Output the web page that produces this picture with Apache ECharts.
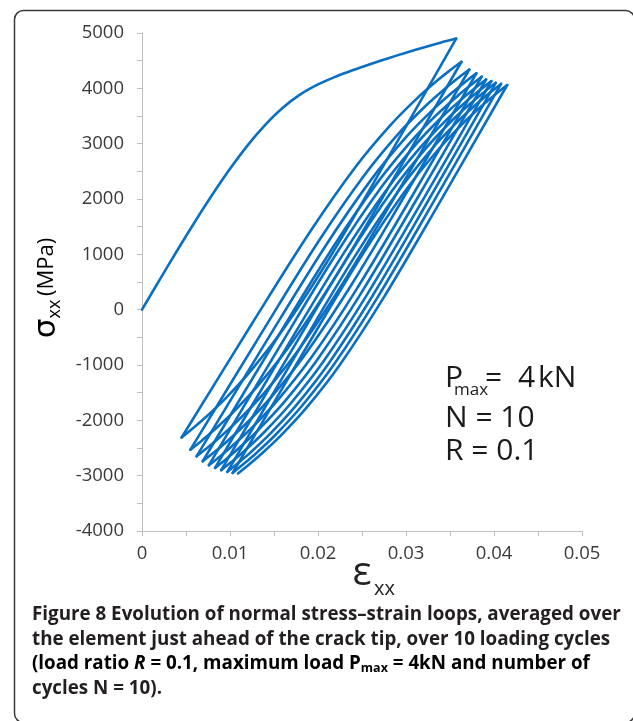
<!DOCTYPE html>
<html>
<head>
<meta charset="utf-8">
<script src="https://cdn.jsdelivr.net/npm/echarts@6/dist/echarts.min.js"></script>
<style>
html,body{margin:0;padding:0;background:#fff;}
#c{width:633px;height:721px;}
</style>
</head>
<body>
<div id="c"></div>
<script>
// ---- data (strain, stress MPa) ----
const xTicks = [0, 0.01, 0.02, 0.03, 0.04, 0.05];
const yTicks = [-4000, -3000, -2000, -1000, 0, 1000, 2000, 3000, 4000, 5000];

const initialCurve = [[0,0],[0.002,540],[0.004,1070],[0.006,1585],[0.008,2080],[0.010,2545],[0.012,2970],[0.014,3340],[0.016,3650],[0.018,3890],[0.020,4070],[0.022,4210],[0.024,4330],[0.026,4440],[0.028,4545],[0.030,4645],[0.032,4740],[0.034,4830],[0.0357,4900]];

const unload1 = [[0.0357,4900],[0.02793,2737],[0.02131,934],[0.01632,-291],[0.01247,-1084],[0.00958,-1589],[0.00720,-1950],[0.00562,-2166],[0.0045,-2310]];
const load1 = [[0.0045,-2310],[0.01242,-273],[0.01917,1425],[0.02426,2579],[0.02818,3326],[0.03113,3801],[0.03355,4141],[0.03516,4344],[0.0363,4480]];
const unload2 = [[0.0363,4480],[0.02863,2377],[0.02210,624],[0.01716,-567],[0.01337,-1338],[0.01051,-1829],[0.00816,-2180],[0.00661,-2390],[0.0055,-2530]];
const load2 = [[0.0055,-2530],[0.01340,-469],[0.02012,1249],[0.02520,2416],[0.02910,3172],[0.03204,3653],[0.03446,3997],[0.03606,4203],[0.0372,4340]];
const unload3 = [[0.0372,4340],[0.02948,2243],[0.02290,495],[0.01794,-693],[0.01412,-1462],[0.01124,-1951],[0.00888,-2301],[0.00732,-2510],[0.0062,-2650]];
const load3 = [[0.0062,-2650],[0.01412,-574],[0.02087,1156],[0.02596,2332],[0.02988,3094],[0.03283,3578],[0.03525,3924],[0.03686,4132],[0.0380,4270]];
const unload4 = [[0.0380,4270],[0.03025,2167],[0.02366,414],[0.01868,-777],[0.01485,-1548],[0.01196,-2039],[0.00959,-2390],[0.00802,-2600],[0.0069,-2740]];
const load4 = [[0.0069,-2740],[0.01480,-655],[0.02152,1083],[0.02660,2264],[0.03050,3029],[0.03344,3515],[0.03586,3863],[0.03746,4071],[0.0386,4210]];
const unload5 = [[0.0386,4210],[0.03088,2104],[0.02430,349],[0.01934,-844],[0.01552,-1617],[0.01264,-2108],[0.01028,-2459],[0.00872,-2670],[0.0076,-2810]];
const load5 = [[0.0076,-2810],[0.01545,-719],[0.02213,1024],[0.02717,2208],[0.03105,2975],[0.03397,3463],[0.03638,3812],[0.03797,4021],[0.0391,4160]];
const unload6 = [[0.0391,4160],[0.03143,2054],[0.02490,299],[0.01996,-894],[0.01617,-1667],[0.01331,-2158],[0.01096,-2509],[0.00941,-2720],[0.0083,-2860]];
const load6 = [[0.0083,-2860],[0.01612,-763],[0.02278,985],[0.02781,2173],[0.03168,2942],[0.03459,3431],[0.03698,3781],[0.03857,3990],[0.0397,4130]];
const unload7 = [[0.0397,4130],[0.03205,2021],[0.02554,263],[0.02063,-932],[0.01684,-1705],[0.01399,-2197],[0.01166,-2549],[0.01011,-2759],[0.0090,-2900]];
const load7 = [[0.0090,-2900],[0.01677,-800],[0.02339,950],[0.02838,2140],[0.03223,2910],[0.03512,3400],[0.03750,3750],[0.03908,3960],[0.0402,4100]];
const unload8 = [[0.0402,4100],[0.03260,1991],[0.02613,233],[0.02125,-962],[0.01749,-1735],[0.01466,-2227],[0.01234,-2579],[0.01080,-2789],[0.0097,-2930]];
const load8 = [[0.0097,-2930],[0.01745,-827],[0.02404,926],[0.02902,2117],[0.03285,2888],[0.03574,3379],[0.03811,3730],[0.03968,3940],[0.0408,4080]];
const unload9 = [[0.0408,4080],[0.03320,1971],[0.02673,213],[0.02185,-982],[0.01809,-1755],[0.01526,-2247],[0.01294,-2599],[0.01140,-2809],[0.0103,-2950]];
const load9 = [[0.0103,-2950],[0.01807,-847],[0.02469,906],[0.02968,2097],[0.03353,2868],[0.03642,3359],[0.03880,3710],[0.04038,3920],[0.0415,4060]];
const unload10 = [[0.0415,4060],[0.03388,1954],[0.02739,199],[0.02249,-994],[0.01872,-1767],[0.01588,-2258],[0.01355,-2609],[0.01200,-2820],[0.0109,-2960]];

const branches = [initialCurve, unload1, load1, unload2, load2, unload3, load3, unload4, load4,
  unload5, load5, unload6, load6, unload7, load7, unload8, load8, unload9, load9, unload10];

const lineColor = '#0a6fc2';
const seriesList = branches.map(b => ({
  type: 'line', data: b, showSymbol: false, symbol: 'none', smooth: 0.35,
  lineStyle: {color: lineColor, width: 2.6, join: 'round', cap: 'round'},
  emphasis: {disabled: true}
}));

const chart = echarts.init(document.getElementById('c'), null, {renderer: 'canvas'});
const axisGray = '#bfbfbf';
const labelFont = {fontFamily: 'Open Sans', fontSize: 18.5, color: '#3a3a3a'};
const capFont = 'Open Sans';
const capSize = 18.8;
const capColor = '#231f20';
const annFont = {fontFamily: 'Open Sans', fontSize: 30, fill: '#1a1a1a', verticalAlign: 'middle'};

chart.setOption({
  animation: false,
  backgroundColor: '#fff',
  grid: {left: 142, right: 51, top: 33, bottom: 190, containLabel: false},
  xAxis: {
    type: 'value', min: xTicks[0], max: xTicks[xTicks.length-1], interval: 0.01,
    axisLine: {show: true, onZero: false, lineStyle: {color: axisGray, width: 1}},
    axisTick: {show: true, length: 5, lineStyle: {color: axisGray}},
    minorTick: {show: true, splitNumber: 2, length: 5, lineStyle: {color: axisGray}},
    splitLine: {show: false},
    axisLabel: Object.assign({margin: 13, formatter: v => v === 0 ? '0' : (+v).toFixed(2)}, labelFont)
  },
  yAxis: {
    type: 'value', min: yTicks[0], max: yTicks[yTicks.length-1], interval: 1000,
    axisLine: {show: true, onZero: false, lineStyle: {color: axisGray, width: 1}},
    axisTick: {show: true, length: 5, lineStyle: {color: axisGray}},
    minorTick: {show: true, splitNumber: 2, length: 5, lineStyle: {color: axisGray}},
    splitLine: {show: false},
    axisLabel: Object.assign({margin: 18, formatter: v => String(Math.round(v))}, labelFont)
  },
  series: seriesList,
  graphic: [
    {type: 'rect', left: 12, top: 8, shape: {width: 620, height: 712, r: 9},
     style: {fill: 'none', stroke: '#3a3a3a', lineWidth: 1.5}, z: 100},
    // y axis title
    {type: 'text', x: 47, y: 288, rotation: Math.PI/2, z: 100,
     style: {text: '{s|σ}{b|xx}{m|\u2009(MPa)}', align: 'center', verticalAlign: 'middle',
       rich: {
         s: {fontFamily: 'DejaVu Sans', fontSize: 31, color: '#222', verticalAlign: 'middle', lineHeight: 34},
         b: {fontFamily: 'Open Sans', fontSize: 18, color: '#222', verticalAlign: 'bottom', lineHeight: 17},
         m: {fontFamily: 'Open Sans', fontSize: 22, color: '#222', verticalAlign: 'middle', lineHeight: 34}
       }}},
    // x axis title
    {type: 'text', x: 362, y: 574, z: 100,
     style: {text: 'ε', fontFamily: 'Open Sans', fontSize: 40, fill: '#222', align: 'center', verticalAlign: 'middle'}},
    {type: 'text', x: 374, y: 589, z: 100,
     style: {text: 'xx', fontFamily: 'Open Sans', fontSize: 20, fill: '#222', align: 'left', verticalAlign: 'middle'}},
    // annotation
    {type: 'text', x: 445, y: 378, z: 100, style: Object.assign({text: 'P'}, annFont)},
    {type: 'text', x: 454, y: 390, z: 100,
     style: {text: 'max', fontFamily: 'Open Sans', fontSize: 17, fill: '#1a1a1a', verticalAlign: 'middle'}},
    {type: 'text', x: 485, y: 378, z: 100, style: Object.assign({text: '='}, annFont)},
    {type: 'text', x: 518, y: 378, z: 100, style: Object.assign({text: '4'}, annFont)},
    {type: 'text', x: 538, y: 378, z: 100, style: Object.assign({text: 'kN'}, annFont)},
    {type: 'text', x: 445, y: 418, z: 100, style: Object.assign({text: 'N = 10'}, annFont)},
    {type: 'text', x: 445, y: 451, z: 100, style: Object.assign({text: 'R = 0.1'}, annFont)},
    // caption
    {type: 'text', x: 32, y: 615, z: 100,
     style: {text: 'Figure 8 Evolution of normal stress–strain loops, averaged over',
       fontFamily: capFont, fontWeight: 'bold', fontSize: capSize, fill: capColor, verticalAlign: 'middle'}},
    {type: 'text', x: 32, y: 640, z: 100,
     style: {text: 'the element just ahead of the crack tip, over 10 loading cycles',
       fontFamily: capFont, fontWeight: 'bold', fontSize: capSize, fill: capColor, verticalAlign: 'middle'}},
    {type: 'text', x: 32, y: 664, z: 100,
     style: {text: '{n|(load ratio }{i|R}{n| = 0.1, maximum load P}{s|max}{n| = 4kN and number of}',
       verticalAlign: 'middle',
       rich: {
         n: {fontFamily: capFont, fontWeight: 'bold', fontSize: capSize, color: capColor, lineHeight: 22, verticalAlign: 'middle'},
         i: {fontFamily: capFont, fontWeight: 'bold', fontStyle: 'italic', fontSize: capSize, color: capColor, lineHeight: 22, verticalAlign: 'middle'},
         s: {fontFamily: capFont, fontWeight: 'bold', fontSize: 12.5, color: capColor, lineHeight: 12, verticalAlign: 'bottom'}
       }}},
    {type: 'text', x: 32, y: 689, z: 100,
     style: {text: 'cycles N = 10).',
       fontFamily: capFont, fontWeight: 'bold', fontSize: capSize, fill: capColor, verticalAlign: 'middle'}}
  ]
});
</script>
</body>
</html>
